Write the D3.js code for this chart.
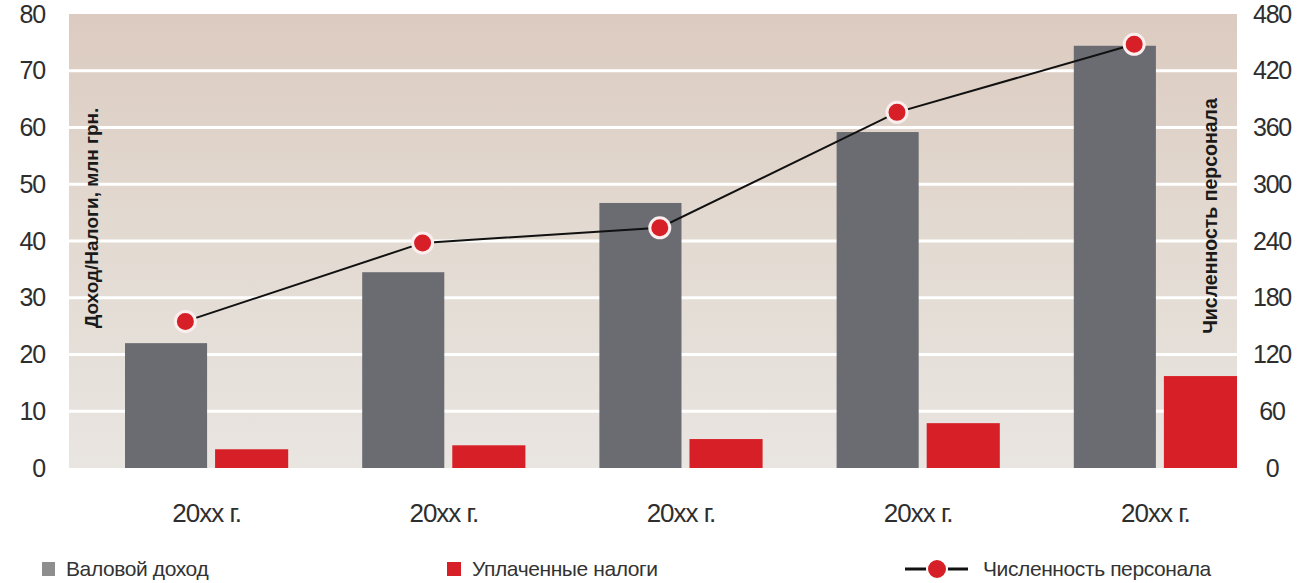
<!DOCTYPE html>
<html>
<head>
<meta charset="utf-8">
<script src="https://cdn.jsdelivr.net/npm/d3@7"></script>
<style>
  html, body { margin: 0; padding: 0; background: #ffffff; }
  svg { display: block; }
  text { font-family: "Liberation Sans", Arial, sans-serif; }
</style>
</head>
<body>
<svg id="chart" width="1297" height="583"></svg>
<script>
// ---- data ----
const categories = ["20хх г.", "20хх г.", "20хх г.", "20хх г.", "20хх г."];
const revenue = [22.0, 34.5, 46.7, 59.2, 74.4];      // Валовой доход, млн грн.
const taxes = [3.3, 4.0, 5.1, 7.9, 16.2];            // Уплаченные налоги, млн грн.
const staff = [155, 238, 254, 376, 448];             // Численность персонала
const leftTicks = [0, 10, 20, 30, 40, 50, 60, 70, 80];
const rightTicks = [0, 60, 120, 180, 240, 300, 360, 420, 480];
const seriesNames = ["Валовой доход", "Уплаченные налоги", "Численность персонала"];
const leftTitle = "Доход/Налоги, млн грн.";
const rightTitle = "Численность персонала";

// ---- layout ----
const W = 1297, H = 583;
const plot = { left: 69, right: 1237, top: 14, bottom: 468 };
const colors = { gray: "#6a6c71", red: "#d71f27", text: "#2e2e2e", grid: "#ffffff" };

const svg = d3.select("#chart");
const defs = svg.append("defs");
const grad = defs.append("linearGradient").attr("id", "bg").attr("x1", 0).attr("y1", 0).attr("x2", 0).attr("y2", 1);
grad.append("stop").attr("offset", "0%").attr("stop-color", "#dccbc0");
grad.append("stop").attr("offset", "45%").attr("stop-color", "#e2d9d0");
grad.append("stop").attr("offset", "100%").attr("stop-color", "#e9e5e1");

const idx = d3.range(categories.length);
const x = d3.scaleBand().domain(idx).range([125, plot.right]).paddingInner(0.312).paddingOuter(0);
const bw = x.bandwidth();
const yL = d3.scaleLinear().domain([0, 80]).range([plot.bottom, plot.top]);
const yR = d3.scaleLinear().domain([0, 480]).range([plot.bottom, plot.top]);

// background
svg.append("rect")
  .attr("x", plot.left).attr("y", plot.top)
  .attr("width", plot.right - plot.left).attr("height", plot.bottom - plot.top)
  .attr("fill", "url(#bg)");

// gridlines
svg.append("g").selectAll("line")
  .data(leftTicks.filter(t => t > 0 && t < 80))
  .join("line")
  .attr("x1", plot.left).attr("x2", plot.right)
  .attr("y1", d => yL(d)).attr("y2", d => yL(d))
  .attr("stroke", colors.grid).attr("stroke-width", 3);

// bars
const grayW = bw * 0.503, gap = bw * 0.049, redW = bw - grayW - gap;
svg.append("g").selectAll("rect")
  .data(revenue)
  .join("rect")
  .attr("x", (d, i) => x(i))
  .attr("y", d => yL(d))
  .attr("width", grayW)
  .attr("height", d => yL(0) - yL(d))
  .attr("fill", colors.gray);

svg.append("g").selectAll("rect")
  .data(taxes)
  .join("rect")
  .attr("x", (d, i) => x(i) + grayW + gap)
  .attr("y", d => yL(d))
  .attr("width", redW)
  .attr("height", d => yL(0) - yL(d))
  .attr("fill", colors.red);

// line
const px = i => x(i) + bw * 0.37;
const line = d3.line().x((d, i) => px(i)).y(d => yR(d));
svg.append("path")
  .datum(staff)
  .attr("d", line)
  .attr("fill", "none")
  .attr("stroke", "#111")
  .attr("stroke-width", 2);

svg.append("g").selectAll("circle")
  .data(staff)
  .join("circle")
  .attr("cx", (d, i) => px(i))
  .attr("cy", d => yR(d))
  .attr("r", 10)
  .attr("fill", colors.red)
  .attr("stroke", "#fbeeee")
  .attr("stroke-width", 3);

// left axis
const axL = d3.axisLeft(yL).tickValues(leftTicks).tickSize(0).tickPadding(0);
const gL = svg.append("g").attr("transform", "translate(45,0)").call(axL);
gL.select(".domain").remove();
gL.selectAll("text")
  .attr("font-family", "Liberation Sans, Arial, sans-serif")
  .attr("font-size", 25).attr("letter-spacing", -1.2)
  .attr("fill", colors.text).attr("dy", "0.32em");

// right axis
const axR = d3.axisRight(yR).tickValues(rightTicks).tickSize(0).tickPadding(0);
const gR = svg.append("g").attr("transform", "translate(1272,0)").call(axR);
gR.select(".domain").remove();
gR.selectAll("text")
  .attr("font-family", "Liberation Sans, Arial, sans-serif")
  .attr("font-size", 25).attr("letter-spacing", -1.2)
  .attr("text-anchor", "middle")
  .attr("fill", colors.text).attr("dy", "0.32em");

// x axis
const axX = d3.axisBottom(x).tickFormat(i => categories[i]).tickSize(0).tickPadding(0);
const gX = svg.append("g").attr("transform", `translate(0,513)`).call(axX);
gX.select(".domain").remove();
gX.selectAll("text")
  .attr("font-family", "Liberation Sans, Arial, sans-serif")
  .attr("font-size", 26).attr("letter-spacing", -1)
  .attr("fill", colors.text).attr("dy", "0.35em");

// axis titles
svg.append("text")
  .attr("transform", "translate(98,218) rotate(-90)")
  .attr("text-anchor", "middle")
  .attr("font-size", 19).attr("font-weight", "bold")
  .attr("fill", "#1a1a1a")
  .text(leftTitle);

svg.append("text")
  .attr("transform", "translate(1217,216) rotate(-90)")
  .attr("text-anchor", "middle")
  .attr("font-size", 19.5).attr("font-weight", "bold")
  .attr("fill", "#1a1a1a")
  .text(rightTitle);

// legend
const ly = 569;
const lg = svg.append("g").attr("font-size", 21).attr("fill", "#333");
lg.append("rect").attr("x", 42).attr("y", ly - 7).attr("width", 13).attr("height", 14).attr("fill", "#8e8e8e");
lg.append("text").attr("x", 66).attr("y", ly).attr("dy", "0.35em").attr("letter-spacing", -0.4).attr("fill", "#333").text(seriesNames[0]);
lg.append("rect").attr("x", 447).attr("y", ly - 7).attr("width", 14).attr("height", 14).attr("fill", colors.red);
lg.append("text").attr("x", 472).attr("y", ly).attr("dy", "0.35em").attr("letter-spacing", -0.4).attr("fill", "#333").text(seriesNames[1]);
lg.append("line").attr("x1", 905).attr("x2", 968).attr("y1", ly).attr("y2", ly).attr("stroke", "#111").attr("stroke-width", 3);
lg.append("circle").attr("cx", 937).attr("cy", ly).attr("r", 10).attr("fill", colors.red).attr("stroke", "#fff").attr("stroke-width", 2);
lg.append("text").attr("x", 983).attr("y", ly).attr("dy", "0.35em").attr("letter-spacing", -0.4).attr("fill", "#333").text(seriesNames[2]);
</script>
</body>
</html>
